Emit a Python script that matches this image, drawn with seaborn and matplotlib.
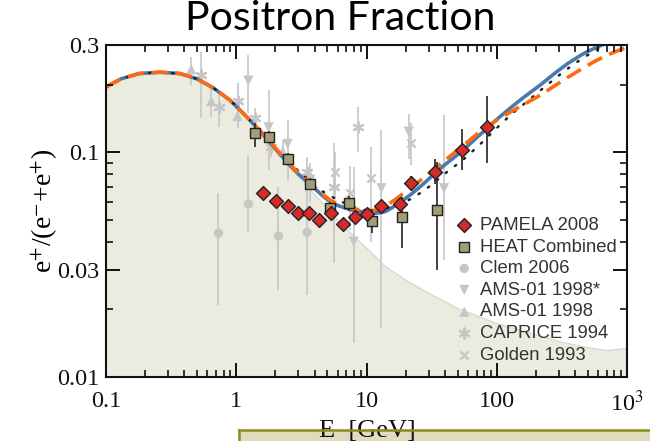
import numpy as np
import pandas as pd
import matplotlib
matplotlib.use("Agg")
import matplotlib.pyplot as plt
import matplotlib.ticker as mticker
from matplotlib.patches import Rectangle
from matplotlib.lines import Line2D
from matplotlib.transforms import blended_transform_factory
import seaborn as sns

plt.rcParams['font.family'] = ['Liberation Serif', 'DejaVu Serif']
plt.rcParams['mathtext.fontset'] = 'stix'
plt.rcParams.update({'xtick.direction': 'in', 'ytick.direction': 'in', 'axes.axisbelow': False})

# ---------------- data ----------------
E_solid = [0.1, 0.13, 0.18, 0.26, 0.37, 0.5, 0.67, 0.9, 1.2, 1.6, 2.2, 2.6, 3.0, 3.5, 4.0, 4.6,
           5.3, 6.1, 7.0, 8.0, 9.0, 10.0, 11.3, 12.7, 14.0, 17.2, 22.0, 27.5, 33.0, 40.0, 54.0,
           70.0, 84.7, 100, 130, 160, 218, 280, 350, 450, 560, 670, 1000]
model_solid = [0.195, 0.212, 0.224, 0.227, 0.224, 0.212, 0.193, 0.170, 0.144, 0.120, 0.097, 0.087,
               0.080, 0.074, 0.069, 0.064, 0.060, 0.0578, 0.0562, 0.055, 0.0545, 0.0538, 0.0535,
               0.0538, 0.0545, 0.0585, 0.065, 0.0725, 0.080, 0.088, 0.101, 0.116, 0.128, 0.140,
               0.159, 0.175, 0.200, 0.225, 0.248, 0.272, 0.290, 0.303, 0.33]
E_dashed = [0.1, 0.13, 0.18, 0.26, 0.37, 0.5, 0.67, 0.9, 1.2, 1.6, 2.2, 2.6, 3.0, 3.5, 4.0, 4.6,
            5.3, 6.1, 7.0, 8.0, 9.0, 10.0, 11.3, 12.7, 14.0, 17.2, 22.0, 27.5, 33.0, 40.0, 54.0,
            70.0, 84.7, 100, 130, 170, 218, 280, 350, 450, 560, 700, 850, 1000]
model_dashed = [0.195, 0.212, 0.224, 0.227, 0.224, 0.212, 0.193, 0.170, 0.144, 0.121, 0.098, 0.088,
                0.081, 0.075, 0.070, 0.065, 0.061, 0.0588, 0.0572, 0.056, 0.0555, 0.055, 0.0551,
                0.056, 0.0575, 0.0625, 0.0695, 0.077, 0.084, 0.092, 0.106, 0.120, 0.130, 0.139,
                0.152, 0.166, 0.180, 0.198, 0.215, 0.235, 0.253, 0.270, 0.283, 0.293]
E_dot = [0.1, 0.13, 0.18, 0.26, 0.37, 0.5, 0.67, 0.9, 1.2, 1.6, 2.2, 2.84, 4.4, 6.1, 9.0, 12.0,
         17.0, 22.0, 26.0, 31.0, 41.8, 54.5, 74, 97, 130, 175, 240, 331, 460, 600, 1000]
model_dotted = [0.195, 0.212, 0.224, 0.227, 0.224, 0.212, 0.193, 0.170, 0.144, 0.121, 0.098, 0.085,
                0.068, 0.061, 0.0555, 0.055, 0.058, 0.062, 0.066, 0.071, 0.082, 0.092, 0.108,
                0.126, 0.148, 0.170, 0.198, 0.230, 0.263, 0.288, 0.33]
E_bg = [0.1, 0.13, 0.18, 0.26, 0.37, 0.5, 0.67, 0.9, 1.2, 1.6, 2.2, 3.0, 3.94, 5.28, 7.1, 10, 14,
        20, 30, 50, 100, 200, 300, 500, 700, 1000]
secondary = [0.195, 0.212, 0.224, 0.227, 0.224, 0.212, 0.193, 0.170, 0.144, 0.120, 0.097, 0.078,
             0.0656, 0.0543, 0.0451, 0.0375, 0.031, 0.027, 0.0236, 0.0202, 0.0173, 0.0154, 0.0144,
             0.0135, 0.0131, 0.0134]

pamela_E = [1.60, 2.02, 2.50, 3.0, 3.62, 4.35, 5.35, 6.58, 8.13, 10.1, 13.0, 18.0, 21.9, 33.5, 53.8, 83.8]
pamela_y = [0.0656, 0.0607, 0.0578, 0.0538, 0.0538, 0.0499, 0.0538, 0.0477, 0.0516, 0.0529, 0.0576,
            0.0587, 0.0727, 0.0818, 0.1023, 0.1298]
pamela_lo = [0.0645, 0.0597, 0.0568, 0.0528, 0.0528, 0.0489, 0.0527, 0.0466, 0.0503, 0.0514, 0.0558,
             0.0565, 0.068, 0.072, 0.0833, 0.0898]
pamela_hi = [0.0667, 0.0617, 0.0588, 0.0548, 0.0548, 0.0509, 0.0549, 0.0488, 0.0529, 0.0544, 0.0594,
             0.0609, 0.078, 0.093, 0.127, 0.178]

heat_E = [1.40, 1.77, 2.48, 3.66, 5.28, 7.31, 11.1, 18.6, 34.5]
heat_y = [0.1213, 0.117, 0.0933, 0.0720, 0.0563, 0.0593, 0.0495, 0.0516, 0.0552]
heat_lo = [0.106, 0.110, 0.088, 0.068, 0.052, 0.055, 0.0437, 0.0375, 0.0299]
heat_hi = [0.135, 0.124, 0.099, 0.077, 0.060, 0.064, 0.056, 0.063, 0.0906]

clem_E = [0.73, 1.24, 2.11, 3.5]
clem_y = [0.0436, 0.0589, 0.0424, 0.044]
clem_lo = [0.0209, 0.0437, 0.0244, 0.0232]
clem_hi = [0.0656, 0.0972, 0.0703, 0.075]

amsstar_E = [1.24, 1.77, 2.48, 3.7, 7.98, 13.0, 21.1, 39.4]
amsstar_y = [0.208, 0.129, 0.1088, 0.0752, 0.040, 0.0691, 0.1234, 0.0691]
amsstar_lo = [0.150, 0.083, 0.075, 0.060, 0.0141, 0.0165, 0.093, 0.033]
amsstar_hi = [0.27, 0.189, 0.139, 0.090, 0.0857, 0.1256, 0.148, 0.147]

ams_E = [0.451, 0.642, 1.023, 2.28]
ams_y = [0.234, 0.169, 0.145, 0.101]
ams_lo = [0.199, 0.144, 0.128, 0.088]
ams_hi = [0.266, 0.192, 0.171, 0.113]

caprice_E = [0.538, 0.740, 1.03, 1.40, 1.85, 3.5, 5.6, 8.57]
caprice_y = [0.220, 0.159, 0.169, 0.1415, 0.106, 0.0818, 0.0703, 0.1298]
caprice_lo = [0.142, 0.130, 0.128, 0.116, 0.095, 0.070, 0.032, 0.100]
caprice_hi = [0.28, 0.179, 0.203, 0.157, 0.118, 0.095, 0.110, 0.159]

golden_E = [5.7, 7.45, 10.9, 21.8]
golden_y = [0.0818, 0.066, 0.0765, 0.110]
golden_lo = [0.062, 0.045, 0.040, 0.088]
golden_hi = [0.100, 0.087, 0.105, 0.135]

x_ticks = [0.1, 1, 10, 100, 1000]
x_ticklabels = ["0.1", "1", "10", "100", r"10$^3$"]
x_minor = [d * m for d in [0.1, 1, 10, 100] for m in range(2, 10)]
y_ticks = [0.01, 0.03, 0.1, 0.3]
y_ticklabels = ["0.01", "0.03", "0.1", "0.3"]
y_minor = [0.02, 0.04, 0.05, 0.06, 0.07, 0.08, 0.09, 0.2]

# ---------------- figure ----------------
W, H = 650, 441
AX_L, AX_R, AX_T, AX_B = 106, 627, 45, 377
fig = plt.figure(figsize=(W / 100, H / 100), dpi=100)
ax = fig.add_axes([AX_L / W, 1 - AX_B / H, (AX_R - AX_L) / W, (AX_B - AX_T) / H])
ax.set_xscale('log')
ax.set_yscale('log')
ax.set_xlim(0.1, 1000)
ax.set_ylim(0.01, 0.3)
ax.set_facecolor('white')

# secondary background
ax.fill_between(E_bg, 0.001, secondary, color='#ecebe0', lw=0, zorder=0)
ax.plot(E_bg, secondary, color='#d4d4cc', lw=0.8, zorder=0.5)

gray = '#c6c6c6'
def bars(E, lo, hi, color, lw=1.2, z=1):
    ax.vlines(E, lo, hi, colors=color, lw=lw, zorder=z)

for E, lo, hi in [(clem_E, clem_lo, clem_hi), (amsstar_E, amsstar_lo, amsstar_hi),
                  (ams_E, ams_lo, ams_hi), (caprice_E, caprice_lo, caprice_hi),
                  (golden_E, golden_lo, golden_hi)]:
    bars(E, lo, hi, gray)

sns.scatterplot(x=clem_E, y=clem_y, ax=ax, marker='o', s=45, color=gray, edgecolor='none',
                label='Clem 2006', zorder=2)
sns.scatterplot(x=amsstar_E, y=amsstar_y, ax=ax, marker='v', s=55, color=gray, edgecolor='none',
                label='AMS-01 1998*', zorder=2)
sns.scatterplot(x=ams_E, y=ams_y, ax=ax, marker='^', s=55, color=gray, edgecolor='none',
                label='AMS-01 1998', zorder=2)
sns.scatterplot(x=caprice_E, y=caprice_y, ax=ax, marker=(6, 2, 0), s=55, color=gray,
                linewidth=1.6, label='CAPRICE 1994', zorder=2)
sns.scatterplot(x=golden_E, y=golden_y, ax=ax, marker='x', s=35, color=gray,
                linewidth=1.6, label='Golden 1993', zorder=2)

# model curves
sns.lineplot(x=E_solid, y=model_solid, ax=ax, color='#4a79ad', lw=2.6, sort=False,
             estimator=None, zorder=3)
sns.lineplot(x=E_dashed, y=model_dashed, ax=ax, color='#ff6a10', lw=2.6, sort=False,
             estimator=None, zorder=3.2)
ax.lines[-1].set_dashes((4.5, 2.2))
sns.lineplot(x=E_dot, y=model_dotted, ax=ax, color='#222222', lw=1.8, sort=False,
             estimator=None, zorder=3.1)
ax.lines[-1].set_dashes((0.6, 4.0))
ax.lines[-1].set_dash_capstyle('round')

# measurements in front
bars(heat_E, heat_lo, heat_hi, '#333333', lw=1.3, z=4)
bars(pamela_E, pamela_lo, pamela_hi, '#333333', lw=1.3, z=4)
sns.scatterplot(x=heat_E, y=heat_y, ax=ax, marker='s', s=48, color='#a29c78', edgecolor='#222222',
                linewidth=1.0, label='HEAT Combined', zorder=5)
sns.scatterplot(x=pamela_E, y=pamela_y, ax=ax, marker='D', s=50, color='#d42a2a', edgecolor='#222222',
                linewidth=1.0, label='PAMELA 2008', zorder=5)

# tick labels (native tick marks hidden, marks drawn as plain lines below)
ax.xaxis.set_major_locator(mticker.FixedLocator(x_ticks))
ax.xaxis.set_major_formatter(mticker.FixedFormatter(x_ticklabels))
ax.yaxis.set_major_locator(mticker.FixedLocator(y_ticks))
ax.yaxis.set_major_formatter(mticker.FixedFormatter(y_ticklabels))
ax.xaxis.set_minor_locator(mticker.NullLocator())
ax.yaxis.set_minor_locator(mticker.NullLocator())
ax.tick_params(which='both', length=0, labelsize=17.5, labelcolor='#111111')
ax.tick_params(axis='y', pad=5)
ax.tick_params(axis='x', pad=10)
for sp in ax.spines.values():
    sp.set_linewidth(1.5)
    sp.set_color('#111111')
    sp.set_zorder(8)

tick_col = '#111111'
tx = blended_transform_factory(ax.transData, ax.transAxes)
ty = blended_transform_factory(ax.transAxes, ax.transData)
axw, axh = AX_R - AX_L, AX_B - AX_T
def xtick(v, L, lw):
    for y0, y1 in [(0, L / axh), (1, 1 - L / axh)]:
        ax.add_line(Line2D([v, v], [y0, y1], transform=tx, color=tick_col, lw=lw,
                           clip_on=False, zorder=8, solid_capstyle='butt'))
def ytick(v, L, lw):
    for x0, x1 in [(0, L / axw), (1, 1 - L / axw)]:
        ax.add_line(Line2D([x0, x1], [v, v], transform=ty, color=tick_col, lw=lw,
                           clip_on=False, zorder=8, solid_capstyle='butt'))
for v in x_ticks[1:-1]:
    xtick(v, 14, 1.4)
for v in x_minor:
    xtick(v, 7, 1.2)
for v in y_ticks[1:-1]:
    ytick(v, 14, 1.4)
for v in y_minor:
    ytick(v, 7, 1.2)

ax.set_ylabel(r"e$^{+}$/(e$^{-}$+e$^{+}$)", fontsize=20, labelpad=-2)
ax.set_xlabel("")

# legend
handles, labels = ax.get_legend_handles_labels()
order = ['PAMELA 2008', 'HEAT Combined', 'Clem 2006', 'AMS-01 1998*', 'AMS-01 1998',
         'CAPRICE 1994', 'Golden 1993']
hmap = dict(zip(labels, handles))
leg = ax.legend([hmap[k] for k in order], order, loc='upper left',
                bbox_to_anchor=((455 - 106) / 521, (377 - 217) / 332), frameon=False,
                prop={'family': 'Liberation Sans', 'size': 13.3}, handlelength=1.0,
                handletextpad=0.35, labelspacing=0.25, borderpad=0, borderaxespad=0)
for t in leg.get_texts():
    t.set_color('#333333')
leg.set_zorder(7)

# slide elements
fig.patches.append(Rectangle((239 / W, -0.01), 1, (441 - 430) / H + 0.01, transform=fig.transFigure,
                             facecolor='#dedcbb', edgecolor='none', lw=0, zorder=1))
fig.text(367 / W, 1 - 431 / H, "E  [GeV]", ha='center', va='center', fontsize=19,
         family='Liberation Serif', color='#111111', zorder=2)
fig.lines.append(Line2D([239 / W, 1.0], [1 - 430 / H, 1 - 430 / H], transform=fig.transFigure,
                        color='#8c8a1e', lw=1.8, zorder=3))
fig.lines.append(Line2D([239 / W, 239 / W], [1 - 430 / H, 0], transform=fig.transFigure,
                        color='#8c8a1e', lw=1.8, zorder=3))
fig.text(340 / W, 1 - 19 / H, "Positron Fraction", ha='center', va='center', fontsize=29.5,
         family='Lato', color='black')
fig.text(-2 / W, 1 + 12 / H, "ic", ha='left', va='center', fontsize=30, weight='bold',
         family='Lato', color='black')

fig.savefig("out.png", dpi=100)
